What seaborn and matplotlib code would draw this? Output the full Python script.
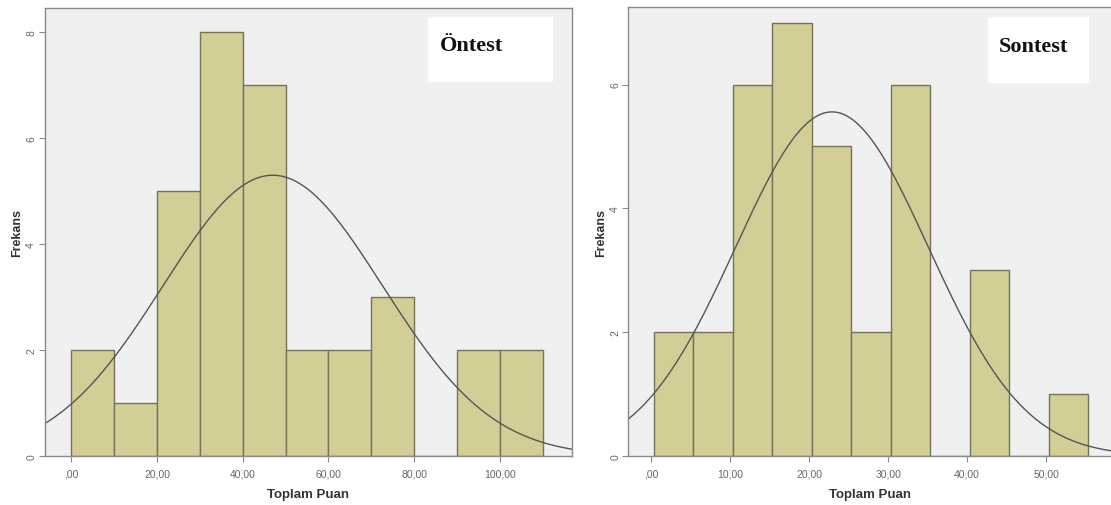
import numpy as np
import pandas as pd
import matplotlib.pyplot as plt
import seaborn as sns
from matplotlib.patches import Rectangle

sns.set_theme(style="white")
plt.rcParams['font.family'] = ['Liberation Sans', 'DejaVu Sans']

# Öntest histogram (bins of width 10 starting at 0)
pre_edges = [0, 10, 20, 30, 40, 50, 60, 70, 80, 90, 100, 110]
pre_counts = [2, 1, 5, 8, 7, 2, 2, 3, 0, 2, 2]
pre_mean, pre_sd = 47.0, 25.6
pre_ticks = [0, 20, 40, 60, 80, 100]
pre_ticklabels = [',00', '20,00', '40,00', '60,00', '80,00', '100,00']

# Sontest histogram (bins of width 5 starting near 0.35)
post_edges = [0.35, 5.35, 10.35, 15.35, 20.35, 25.35, 30.35, 35.35, 40.35, 45.35, 50.35, 55.35]
post_counts = [2, 2, 6, 7, 5, 2, 6, 0, 3, 0, 1]
post_mean, post_sd = 22.9, 12.2
post_ticks = [0, 10, 20, 30, 40, 50]
post_ticklabels = [',00', '10,00', '20,00', '30,00', '40,00', '50,00']

y_ticks_pre = [0, 2, 4, 6, 8]
y_ticks_post = [0, 2, 4, 6]

bar_fill = '#D3CE96'
bar_edge = '#74745A'
spine_col = '#8A8A8A'

fig = plt.figure(figsize=(11.11, 5.06), dpi=100)
ax1 = fig.add_axes([0.0401, 0.0968, 0.4747, 0.885])
ax2 = fig.add_axes([0.5657, 0.0968, 0.4343, 0.887])


def draw_panel(ax, edges, counts, mean, sd, xlim, ylim, xticks, xlabels, yticks,
               title, box, text_pos):
    centers = [(a + b) / 2 for a, b in zip(edges[:-1], edges[1:])]
    df = pd.DataFrame({'x': centers, 'w': counts})
    sns.histplot(data=df, x='x', weights='w', bins=list(edges), ax=ax,
                 color=bar_fill, edgecolor=bar_edge, linewidth=1.0, alpha=1.0)
    width = edges[1] - edges[0]
    n = sum(counts)
    xs = np.linspace(xlim[0], xlim[1], 400)
    ys = n * width / (sd * np.sqrt(2 * np.pi)) * np.exp(-0.5 * ((xs - mean) / sd) ** 2)
    sns.lineplot(x=xs, y=ys, ax=ax, color='#555555', linewidth=1.0)

    ax.set_facecolor('#F0F0F0')
    ax.set_xlim(*xlim)
    ax.set_ylim(*ylim)
    ax.set_xticks(xticks)
    ax.set_xticklabels(xlabels, fontsize=7.5, color='#666666')
    ax.set_yticks(yticks)
    ax.set_yticklabels([str(v) for v in yticks], fontsize=7.5, color='#666666',
                       rotation=90, va='center')
    ax.tick_params(axis='x', length=4, width=0.8, color=spine_col, pad=5, bottom=True)
    ax.tick_params(axis='y', length=4, width=0.8, color=spine_col, pad=2, left=True)
    for s in ax.spines.values():
        s.set_color(spine_col)
        s.set_linewidth(1.0)
    ax.set_xlabel('Toplam Puan', fontsize=9.5, fontweight='bold', color='#333333', labelpad=7)
    ax.set_ylabel('Frekans', fontsize=9, fontweight='bold', color='#333333', labelpad=2)
    x0, y0, x1, y1 = box
    ax.add_patch(Rectangle((x0, y0), x1 - x0, y1 - y0, transform=ax.transAxes,
                           facecolor='white', edgecolor='none', zorder=5))
    ax.text(text_pos[0], text_pos[1], title, transform=ax.transAxes, fontsize=16,
            fontweight='bold', family=['Liberation Serif', 'DejaVu Serif'],
            color='#111111', va='center', ha='left', zorder=6)


draw_panel(ax1, pre_edges, pre_counts, pre_mean, pre_sd, (-6.25, 116.8), (0, 8.45),
           pre_ticks, pre_ticklabels, y_ticks_pre, 'Öntest',
           (0.727, 0.835, 0.964, 0.98), (0.750, 0.918))
draw_panel(ax2, post_edges, post_counts, post_mean, post_sd, (-2.85, 58.2), (0, 7.25),
           post_ticks, post_ticklabels, y_ticks_post, 'Sontest',
           (0.746, 0.83, 0.954, 0.978), (0.768, 0.913))
ax2.spines['right'].set_visible(False)

fig.savefig('out.png', dpi=100, facecolor='white')
